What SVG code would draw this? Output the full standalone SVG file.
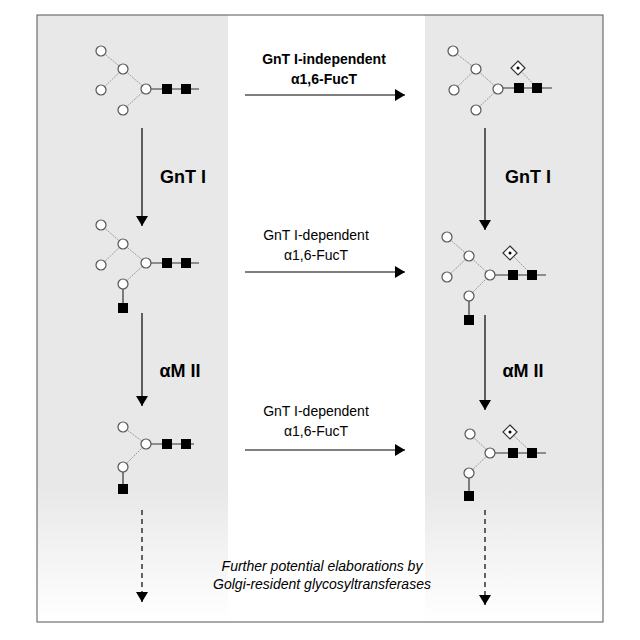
<svg xmlns="http://www.w3.org/2000/svg" width="640" height="640" viewBox="0 0 640 640">
<defs>
<linearGradient id="g" x1="0" y1="0" x2="0" y2="1"><stop offset="0.78" stop-color="#e8e8e8"/><stop offset="1" stop-color="#ffffff"/></linearGradient>
<marker id="ah" viewBox="0 0 10 14" refX="10" refY="7" markerWidth="10" markerHeight="14" markerUnits="userSpaceOnUse" orient="auto"><path d="M0,1 L10,7 L0,13 z" fill="#000"/></marker>
<g id="man"><circle r="5" fill="#fff" stroke="#555" stroke-width="1.2"/></g>
<g id="glc"><rect x="-5" y="-5" width="10" height="10" fill="#000"/></g>
<g id="fuc"><path d="M0,-7 L7,0 L0,7 L-7,0 z" fill="#fff" stroke="#333" stroke-width="1.2"/><circle r="1.5" fill="#000"/></g>
</defs>
<style>
.t{font-family:"Liberation Sans",Arial,sans-serif;font-size:14px;text-anchor:middle}
.b{font-weight:bold}
.big{font-family:"Liberation Sans",Arial,sans-serif;font-size:18px;font-weight:bold;text-anchor:middle}
.i{font-style:italic}
.ln{stroke:#000;stroke-width:1.2;fill:none}
.dl{stroke:#888;stroke-width:0.8;stroke-dasharray:2,1}
.sl{stroke:#333;stroke-width:1.2}
</style>
<rect x="0" y="0" width="640" height="640" fill="#fff"/>
<rect x="37" y="15" width="566" height="607" fill="url(#g)"/>
<rect x="228" y="15" width="197" height="607" fill="#fff"/>
<rect x="37" y="15" width="566" height="607" fill="none" stroke="#555" stroke-width="1"/>

<g id="connectors">
<line class="ln" x1="245" y1="95" x2="405" y2="95" marker-end="url(#ah)"/>
<line class="ln" x1="245" y1="272" x2="405" y2="272" marker-end="url(#ah)"/>
<line class="ln" x1="245" y1="450" x2="405" y2="450" marker-end="url(#ah)"/>
<line class="ln" x1="142" y1="128" x2="142" y2="226" marker-end="url(#ah)"/>
<line class="ln" x1="142" y1="313" x2="142" y2="406" marker-end="url(#ah)"/>
<line class="ln" x1="142" y1="510" x2="142" y2="602" stroke-dasharray="5,4" marker-end="url(#ah)"/>
<line class="ln" x1="485" y1="128" x2="485" y2="230" marker-end="url(#ah)"/>
<line class="ln" x1="485" y1="315" x2="485" y2="410" marker-end="url(#ah)"/>
<line class="ln" x1="485" y1="510" x2="485" y2="605" stroke-dasharray="5,4" marker-end="url(#ah)"/>
</g>

<g id="labels">
<text class="t b" x="324" y="64">GnT I-independent</text>
<text class="t b" x="324" y="84">α1,6-FucT</text>
<text class="t" x="316" y="240">GnT I-dependent</text>
<text class="t" x="316" y="260">α1,6-FucT</text>
<text class="t" x="316" y="416">GnT I-dependent</text>
<text class="t" x="316" y="436">α1,6-FucT</text>
<text class="big" x="183" y="183">GnT I</text>
<text class="big" x="528" y="183">GnT I</text>
<text class="big" x="180" y="377">αM II</text>
<text class="big" x="523" y="377">αM II</text>
<text class="t i" x="322" y="571">Further potential elaborations by</text>
<text class="t i" x="322" y="589">Golgi-resident glycosyltransferases</text>
</g>

<g id="glycan1">
<line class="dl" x1="101" y1="51" x2="123" y2="69"/><line class="dl" x1="101" y1="90" x2="123" y2="69"/>
<line class="dl" x1="123" y1="69" x2="146" y2="89"/><line class="dl" x1="123" y1="110" x2="146" y2="89"/>
<line class="sl" x1="146" y1="89" x2="199" y2="89"/>
<use href="#man" x="101" y="51"/><use href="#man" x="123" y="69"/><use href="#man" x="101" y="90"/><use href="#man" x="146" y="89"/><use href="#man" x="123" y="110"/>
<use href="#glc" x="167" y="89"/><use href="#glc" x="186" y="89"/>
</g>
<g id="glycan2">
<line class="dl" x1="453" y1="51" x2="476" y2="69"/><line class="dl" x1="454" y1="90" x2="476" y2="69"/>
<line class="dl" x1="476" y1="69" x2="498" y2="89"/><line class="dl" x1="476" y1="110" x2="498" y2="89"/>
<line class="dl" x1="518" y1="68" x2="537" y2="88"/>
<line class="sl" x1="498" y1="88" x2="552" y2="88"/>
<use href="#man" x="453" y="51"/><use href="#man" x="476" y="69"/><use href="#man" x="454" y="90"/><use href="#man" x="498" y="89"/><use href="#man" x="476" y="110"/>
<use href="#glc" x="519" y="88"/><use href="#glc" x="537" y="88"/><use href="#fuc" x="518" y="68"/>
</g>
<g id="glycan3">
<line class="dl" x1="101" y1="225" x2="123" y2="244"/><line class="dl" x1="101" y1="265" x2="123" y2="244"/>
<line class="dl" x1="123" y1="244" x2="146" y2="263"/><line class="dl" x1="123" y1="284" x2="146" y2="263"/>
<line class="sl" x1="146" y1="263" x2="199" y2="263"/><line class="sl" x1="123" y1="284" x2="123" y2="308"/>
<use href="#man" x="101" y="225"/><use href="#man" x="123" y="244"/><use href="#man" x="101" y="265"/><use href="#man" x="146" y="263"/><use href="#man" x="123" y="284"/>
<use href="#glc" x="167" y="263"/><use href="#glc" x="186" y="263"/><use href="#glc" x="123" y="308"/>
</g>
<g id="glycan4">
<line class="dl" x1="447" y1="237" x2="469" y2="256"/><line class="dl" x1="447" y1="277" x2="469" y2="256"/>
<line class="dl" x1="469" y1="256" x2="490" y2="275"/><line class="dl" x1="469" y1="296" x2="490" y2="275"/>
<line class="dl" x1="510" y1="253" x2="532" y2="275"/>
<line class="sl" x1="490" y1="275" x2="546" y2="275"/><line class="sl" x1="469" y1="296" x2="469" y2="320"/>
<use href="#man" x="447" y="237"/><use href="#man" x="469" y="256"/><use href="#man" x="447" y="277"/><use href="#man" x="490" y="275"/><use href="#man" x="469" y="296"/>
<use href="#glc" x="513" y="275"/><use href="#glc" x="532" y="275"/><use href="#glc" x="469" y="320"/><use href="#fuc" x="510" y="253"/>
</g>
<g id="glycan5">
<line class="dl" x1="123" y1="427" x2="146" y2="444"/><line class="dl" x1="123" y1="467" x2="146" y2="444"/>
<line class="sl" x1="146" y1="444" x2="194" y2="444"/><line class="sl" x1="123" y1="467" x2="123" y2="489"/>
<use href="#man" x="123" y="427"/><use href="#man" x="146" y="444"/><use href="#man" x="123" y="467"/>
<use href="#glc" x="167" y="444"/><use href="#glc" x="186" y="444"/><use href="#glc" x="123" y="489"/>
</g>
<g id="glycan6">
<line class="dl" x1="470" y1="434" x2="490" y2="453"/><line class="dl" x1="469" y1="473" x2="490" y2="453"/>
<line class="dl" x1="510" y1="432" x2="532" y2="453"/>
<line class="sl" x1="490" y1="453" x2="546" y2="453"/><line class="sl" x1="469" y1="473" x2="469" y2="496"/>
<use href="#man" x="470" y="434"/><use href="#man" x="490" y="453"/><use href="#man" x="469" y="473"/>
<use href="#glc" x="513" y="453"/><use href="#glc" x="532" y="453"/><use href="#glc" x="469" y="496"/><use href="#fuc" x="510" y="432"/>
</g>
</svg>
